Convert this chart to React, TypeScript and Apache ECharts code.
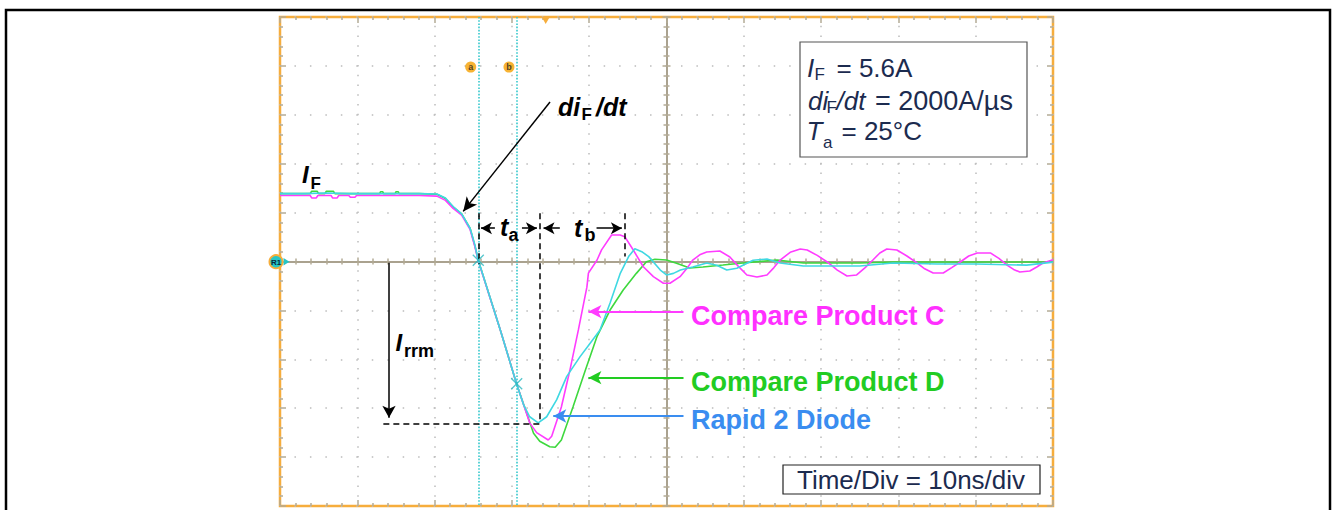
import React, { useEffect, useRef } from "react";
import * as echarts from "echarts";

// Oscilloscope scale: 10 ns/div horizontally, 4 A/div vertically, 10 x 10 divisions
const timeRangeNs = [0, 100];
const timePerDivNs = 10;
const currentRangeA = [-20, 20];
const currentPerDivA = 4;

// Reverse-recovery waveforms [time ns, current A]
const rapid2Diode: [number, number][] = [
  [0, 5.55], [3, 5.55], [6, 5.6], [9, 5.55], [12, 5.55], [15, 5.55], [18, 5.55],
  [20.3, 5.52], [21.4, 5.2], [22.4, 4.5], [23.5, 3.9], [24.6, 2.7], [25.2, 1.4],
  [25.65, 0.1], [28.5, -5.6], [30.6, -10.0], [31.5, -11.7], [32.3, -12.7],
  [33.4, -13.2], [34.5, -12.7], [35.8, -11.3], [37.1, -9.4], [38.8, -7.8],
  [40.1, -6.7], [41.4, -5.6], [42.7, -3.4], [44.0, -1.0], [45.1, 0.4],
  [45.9, 1.05], [46.8, 0.8], [47.7, 0.4], [49.2, -0.7], [50.0, -1.1],
  [50.9, -0.97], [51.8, -0.7], [53.4, -0.45], [55.2, -0.12], [56.5, -0.3],
  [57.8, -0.7], [59.1, -0.55], [61.2, 0.1], [63.0, 0.2], [64.7, -0.12],
  [67.7, -0.37], [75.0, -0.37], [79.3, -0.12], [85, -0.2], [90, -0.2],
  [96.6, -0.3], [100, -0.05],
];

const compareProductC: [number, number][] = [
  [0, 5.4], [3.9, 5.4], [4.1, 5.2], [4.7, 5.2], [4.9, 5.4], [6.6, 5.4], [6.8, 5.2],
  [7.4, 5.2], [7.6, 5.4], [8.9, 5.4], [9.1, 5.25], [9.7, 5.25], [9.9, 5.4],
  [18, 5.4], [20.3, 5.35], [21.4, 5.0], [22.4, 4.35], [23.5, 3.8], [24.6, 2.6],
  [25.2, 1.25], [25.65, 0.05], [28.5, -5.6], [30.6, -10.0], [32.3, -13.2],
  [33.2, -14.0], [34.7, -14.6], [35.15, -14.3], [36.4, -11.9], [37.5, -8.9],
  [38.6, -5.6], [39.7, -2.1], [39.9, -0.95], [41.0, 0.1], [41.6, 0.95],
  [42.9, 2.17], [44.0, 2.17], [44.6, 2.03], [45.7, 0.94], [47.0, -0.43],
  [48.3, -1.24], [49.6, -1.78], [50.45, -1.78], [51.75, -1.24], [52.6, -0.6],
  [53.4, 0.12], [54.3, 0.55], [55.2, 0.78], [56.9, 0.86], [58.2, 0.37],
  [59.3, -0.4], [60.4, -1.1], [61.7, -1.27], [63.0, -1.1], [63.9, -0.5],
  [64.7, 0.12], [66.0, 0.75], [67.3, 1.02], [68.2, 0.94], [69.5, 0.5],
  [70.8, -0.04], [72.1, -0.7], [73.35, -1.19], [74.6, -1.1], [75.7, -0.5],
  [76.7, 0.12], [77.6, 0.7], [78.5, 1.02], [79.8, 0.94], [81.1, 0.45],
  [82.4, -0.12], [83.4, -0.6], [84.5, -0.94], [85.8, -0.94], [86.9, -0.5],
  [88.0, -0.04], [89.1, 0.45], [90.2, 0.7], [91.9, 0.7], [93.0, 0.25],
  [94.05, -0.29], [94.9, -0.65], [95.7, -0.86], [97.0, -0.78], [97.9, -0.45],
  [98.7, -0.12], [100, 0.15],
];

const compareProductD: [number, number][] = [
  [0, 5.55], [3.9, 5.55], [4.1, 5.75], [4.8, 5.75], [5.0, 5.55], [5.8, 5.55],
  [6.0, 5.75], [6.9, 5.75], [7.1, 5.55], [12.9, 5.55], [13.0, 5.7], [13.3, 5.7],
  [13.4, 5.55], [14.9, 5.55], [15.0, 5.7], [15.3, 5.7], [15.4, 5.55], [18, 5.55],
  [20.3, 5.5], [21.4, 5.15], [22.4, 4.45], [23.5, 3.9], [24.6, 2.7], [25.2, 1.3],
  [25.65, 0.1], [28.5, -5.6], [30.6, -10.0], [32.8, -14.05], [33.6, -14.7],
  [34.9, -15.15], [35.6, -15.2], [36.4, -14.6], [37.9, -11.9], [39.5, -8.9],
  [41.0, -6.15], [42.7, -3.97], [44.4, -2.33], [46.1, -0.97], [47.4, -0.02],
  [48.5, 0.18], [50.0, 0.12], [51.3, -0.15], [53.0, -0.53], [54.7, -0.45],
  [57.3, -0.29], [59.9, -0.12], [64.3, 0.12], [67.7, -0.12], [75.0, -0.12],
  [79.3, -0.04], [92.2, -0.04], [100, -0.04],
];

// Cursors and annotation anchors (data units)
const cursorTimesNs = [25.65, 30.62];
const cursorCrossPoints: [number, number][] = [[25.65, 0.1], [30.62, -10.0]];
const cursorTags: [number, number, string][] = [[24.67, 15.9, "a"], [29.62, 15.9, "b"]];
const taSpanNs = [25.65, 33.64];
const tbSpanNs = [33.64, 44.63];
const spanArrowLevelA = 2.72;
const spanMarkerTopA = 3.95;
const tbMarkerBottomA = 0.4;
const irrmA = -13.24;
const irrmArrowTimeNs = 14.1;
const irrmLineStartNs = 13.37;
const didtArrow: [number, number][] = [[34.93, 13.05], [23.7, 4.1]];
const legendArrowStartNs = 52.2;
const legendArrowC: [number, number] = [39.9, -4.1];
const legendArrowD: [number, number] = [39.9, -9.5];
const legendArrowR: [number, number] = [35.35, -12.64];

const GRID = { left: 280, top: 17, width: 773, height: 489 };
const FONT = '"Liberation Sans", Arial, Helvetica, sans-serif';
const TICK = "#b3ab96";
const ORANGE = "#f6ad3c";
const CYAN = "#3fd8e2";
const MAGENTA = "#ff3cff";
const GREEN = "#3ed83e";
const NAVY = "#1c2b4f";

type TxtOpt = { bold?: boolean; italic?: boolean; color?: string };
const txt = (text: string, x: number, y: number, size: number, o: TxtOpt = {}) => ({
  type: "text",
  z: 100,
  style: {
    text,
    x,
    y,
    fontSize: size,
    fontFamily: FONT,
    fontWeight: o.bold ? "bold" : "normal",
    fontStyle: o.italic ? "italic" : "normal",
    fill: o.color || "#000",
    align: "left",
    verticalAlign: "middle",
  },
});

const seg = (
  from: [number, number],
  to: [number, number],
  color: string,
  width: number,
  dash: any,
  startSym = "none",
  endSym = "none",
  size: any = [8, 11]
) => [
  { coord: from, symbol: startSym, symbolSize: size, lineStyle: { color, width, type: dash } },
  { coord: to, symbol: endSym, symbolSize: size },
];

function buildOption() {
  const tickBase = (inside: boolean, len: number, minorLen: number) => ({
    axisTick: { show: true, inside, length: len, lineStyle: { color: TICK, width: 1.5 } },
    minorTick: { show: true, splitNumber: 5, length: minorLen, lineStyle: { color: TICK, width: 1.5 } },
  });
  const xBase = {
    type: "value",
    min: timeRangeNs[0],
    max: timeRangeNs[1],
    interval: timePerDivNs,
    axisLabel: { show: false },
    splitLine: { show: false },
    axisLine: { show: false, onZero: false },
  };
  const yBase = {
    type: "value",
    min: currentRangeA[0],
    max: currentRangeA[1],
    interval: currentPerDivA,
    axisLabel: { show: false },
    splitLine: { show: false },
    axisLine: { show: false, onZero: false },
  };
  const centerLine = { show: true, onZero: false, lineStyle: { color: "#aaa28f", width: 2 } };

  const xAxis = [
    {
      ...xBase,
      position: "bottom",
      ...tickBase(true, 6, 3),
      splitLine: {
        show: true,
        lineStyle: { color: "#bcbcbc", width: 1.5, type: [1.5, 8.28], dashOffset: 0.75 },
      },
    },
    { ...xBase, position: "top", ...tickBase(true, 6, 3) },
    { ...xBase, position: "bottom", offset: -GRID.height / 2, axisLine: centerLine, ...tickBase(true, 4, 3) },
    { ...xBase, position: "bottom", offset: -GRID.height / 2, ...tickBase(false, 4, 3) },
  ];
  const yAxis = [
    {
      ...yBase,
      position: "left",
      ...tickBase(true, 6, 3),
      splitLine: {
        show: true,
        lineStyle: { color: "#bcbcbc", width: 1.5, type: [1.5, 13.96], dashOffset: 0.75 },
      },
    },
    { ...yBase, position: "right", ...tickBase(true, 6, 3) },
    { ...yBase, position: "left", offset: -GRID.width / 2, axisLine: centerLine, ...tickBase(true, 4, 3) },
    { ...yBase, position: "left", offset: -GRID.width / 2, ...tickBase(false, 4, 3) },
  ];

  const black = "#000";
  const dash = [6, 4];
  const markData = [
    // cursors
    ...cursorTimesNs.map((t) =>
      seg([t, currentRangeA[1]], [t, currentRangeA[0]], "#35c8cc", 1.6, [1.6, 1.6])
    ),
    // di/dt arrow
    seg(didtArrow[0], didtArrow[1], black, 1.5, "solid", "none", "arrow", [10, 14]),
    // ta / tb dashed boundaries
    seg([taSpanNs[0], spanMarkerTopA], [taSpanNs[0], -0.2], black, 1.5, dash),
    seg([taSpanNs[1], spanMarkerTopA], [taSpanNs[1], irrmA], black, 1.5, dash),
    seg([tbSpanNs[1], spanMarkerTopA], [tbSpanNs[1], tbMarkerBottomA], black, 1.5, dash),
    // ta arrows
    seg([27.8, spanArrowLevelA], [taSpanNs[0] + 0.35, spanArrowLevelA], black, 1.5, "solid", "none", "arrow", [9, 11]),
    seg([31.3, spanArrowLevelA], [taSpanNs[1] - 0.4, spanArrowLevelA], black, 1.5, "solid", "none", "arrow", [9, 11]),
    // tb arrows
    seg([36.2, spanArrowLevelA], [tbSpanNs[0] + 0.45, spanArrowLevelA], black, 1.5, "solid", "none", "arrow", [9, 11]),
    seg([40.95, spanArrowLevelA], [tbSpanNs[1] - 0.4, spanArrowLevelA], black, 1.5, "solid", "none", "arrow", [9, 11]),
    // Irrm
    seg([irrmLineStartNs, irrmA], [taSpanNs[1], irrmA], black, 1.5, dash),
    seg([irrmArrowTimeNs, -0.1], [irrmArrowTimeNs, irrmA + 0.45], black, 1.5, "solid", "none", "arrow", [10, 12]),
    // legend arrows
    seg([legendArrowStartNs, legendArrowC[1]], legendArrowC, MAGENTA, 2, "solid", "none", "arrow", [10, 13]),
    seg([legendArrowStartNs, legendArrowD[1]], legendArrowD, "#22cc22", 2, "solid", "none", "arrow", [10, 13]),
    seg([legendArrowStartNs, legendArrowR[1]], legendArrowR, "#3a8df0", 2, "solid", "none", "arrow", [10, 13]),
  ];

  const lineSeries = (name: string, data: [number, number][], color: string) => ({
    name,
    type: "line",
    data,
    showSymbol: false,
    symbol: "none",
    xAxisIndex: 0,
    yAxisIndex: 0,
    lineStyle: { color, width: 1.6 },
    itemStyle: { color },
    z: 3,
  });

  const graphic: any[] = [
    {
      type: "rect",
      z: 0,
      shape: { x: 6, y: 10, width: 1324, height: 530 },
      style: { fill: "none", stroke: "#000", lineWidth: 2.5 },
    },
    // trigger marker
    {
      type: "polygon",
      z: 100,
      shape: { points: [[541.7, 17], [549.7, 17], [545.7, 24]] },
      style: { fill: ORANGE },
    },
    // R1 reference marker
    {
      type: "polygon",
      z: 100,
      shape: { points: [[283.5, 258], [289.5, 261.7], [283.5, 265.4]] },
      style: { fill: "#26c6c6" },
    },
    {
      type: "circle",
      z: 101,
      shape: { cx: 276, cy: 261.7, r: 6.6 },
      style: { fill: "#26c6c6", stroke: ORANGE, lineWidth: 1.8 },
    },
    {
      type: "text",
      z: 102,
      style: {
        text: "R1", x: 276, y: 262, fontSize: 8, fontWeight: "bold", fontFamily: FONT,
        fill: "#0a2a3a", align: "center", verticalAlign: "middle",
      },
    },
    // labels
    txt("I", 302, 174, 24, { bold: true, italic: true }),
    txt("F", 310.5, 183.5, 17, { bold: true }),
    txt("di", 558, 106.5, 25, { bold: true, italic: true }),
    txt("F", 581.5, 114, 17, { bold: true }),
    txt("/dt", 596, 106.5, 25, { bold: true, italic: true }),
    txt("t", 500, 227, 25, { bold: true, italic: true }),
    txt("a", 508.5, 235, 18, { bold: true }),
    txt("t", 574, 228, 25, { bold: true, italic: true }),
    txt("b", 584.5, 235, 18, { bold: true }),
    txt("I", 395.5, 342, 24, { bold: true, italic: true }),
    txt("rrm", 404, 350.5, 18, { bold: true }),
    txt("Compare Product C", 691, 316, 27, { bold: true, color: "#ff30ff" }),
    txt("Compare Product D", 691, 381.5, 27, { bold: true, color: "#22cc22" }),
    txt("Rapid 2 Diode", 691, 420, 27, { bold: true, color: "#3a8df0" }),
    // info box
    {
      type: "rect",
      z: 99,
      shape: { x: 800, y: 42, width: 227, height: 115 },
      style: { fill: "#fff", stroke: "#555", lineWidth: 1.2 },
    },
    txt("I", 807, 68, 26, { italic: true, color: NAVY }),
    txt("F", 814.5, 74.5, 17, { color: NAVY }),
    txt("= 5.6A", 836.5, 68, 26, { color: NAVY }),
    txt("di", 808, 101, 26, { italic: true, color: NAVY }),
    txt("F", 826.5, 107.5, 17, { color: NAVY }),
    txt("/dt", 836.5, 101, 26, { italic: true, color: NAVY }),
    txt("= 2000A/\u00b5s", 875, 101, 27, { color: NAVY }),
    txt("T", 806.5, 131, 26, { italic: true, color: NAVY }),
    txt("a", 823, 142.5, 17, { color: NAVY }),
    txt("= 25\u00b0C", 841.5, 131, 26, { color: NAVY }),
    // time/div box
    {
      type: "rect",
      z: 99,
      shape: { x: 783, y: 465, width: 257, height: 29 },
      style: { fill: "#fff", stroke: "#222", lineWidth: 1.2 },
    },
    txt("Time/Div = 10ns/div", 797, 479.5, 26, { color: NAVY }),
  ];

  return {
    animation: false,
    backgroundColor: "#fff",
    grid: {
      ...GRID,
      show: true,
      backgroundColor: "#fff",
      borderColor: ORANGE,
      borderWidth: 2.5,
      containLabel: false,
    },
    xAxis,
    yAxis,
    series: [
      lineSeries("Compare Product D", compareProductD, GREEN),
      lineSeries("Compare Product C", compareProductC, MAGENTA),
      {
        ...lineSeries("Rapid 2 Diode", rapid2Diode, CYAN),
        markLine: {
          silent: true,
          animation: false,
          symbol: "none",
          label: { show: false },
          emphasis: { disabled: true },
          data: markData,
        },
      },
      {
        name: "cursor crosses",
        type: "scatter",
        data: cursorCrossPoints,
        symbol: "path://M0,0L10,10M10,0L0,10",
        symbolSize: 11,
        itemStyle: { color: "transparent", borderColor: "#2bb8c0", borderWidth: 1.3 },
        z: 6,
        silent: true,
      },
      {
        name: "cursor tags",
        type: "scatter",
        data: cursorTags,
        symbol: "circle",
        symbolSize: 11,
        itemStyle: { color: "#f5a000" },
        label: {
          show: true,
          position: "inside",
          formatter: (p: any) => p.data[2],
          fontSize: 9,
          fontWeight: "bold",
          color: "#222",
          fontFamily: FONT,
        },
        z: 6,
        silent: true,
      },
    ],
    graphic,
  };
}

export default function App() {
  const ref = useRef<HTMLDivElement>(null);
  useEffect(() => {
    if (!ref.current) return;
    const chart = echarts.init(ref.current, undefined, { renderer: "svg" });
    chart.setOption(buildOption() as any);
    return () => chart.dispose();
  }, []);
  return (
    <div
      ref={ref}
      style={{ position: "absolute", left: 0, top: 0, width: 1332, height: 510, background: "#fff" }}
    />
  );
}
